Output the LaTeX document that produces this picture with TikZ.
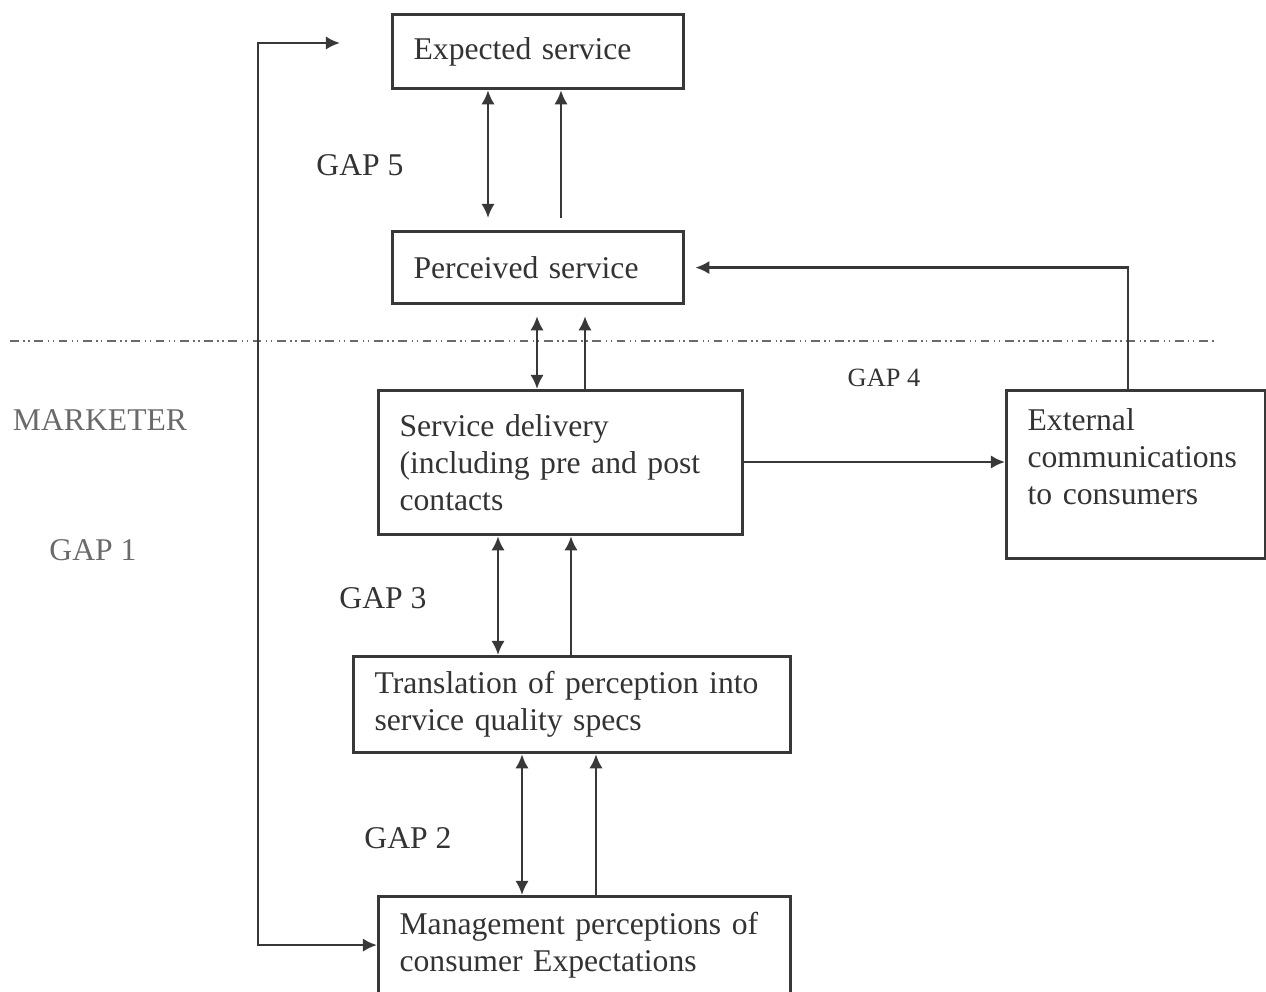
\documentclass[tikz,border=0pt]{standalone}
\usepackage{fontspec}
\setmainfont{Liberation Serif}
\usepackage{xcolor}
\usetikzlibrary{arrows.meta}
\definecolor{inkColor}{HTML}{333333}
\definecolor{lineColor}{HTML}{383838}
\definecolor{fadeColor}{HTML}{6A6A6A}

\begin{document}
\begin{tikzpicture}[
  x=0.01cm, y=-0.01cm,
  box/.style={
    rectangle,
    draw=lineColor,
    line width=0.9pt,
    align=left,
    anchor=north west,
    inner xsep=0.21cm,
    inner ysep=0pt,
    text=inkColor,
    font=\fontsize{9}{10.5}\selectfont
  },
  arrow/.style={
    -{Latex[length=4pt,width=3.8pt]},
    draw=lineColor,
    line width=0.75pt
  },
  dbl/.style={
    arrow,
    {Latex[length=4pt,width=3.8pt]}-{Latex[length=4pt,width=3.8pt]}
  },
  gaptext/.style={
    text=inkColor,
    font=\fontsize{9}{10.5}\selectfont
  },
  divider/.style={
    draw=fadeColor,
    line width=0.8pt,
    dash pattern=on 2.5pt off 1.3pt on 0.4pt off 1pt on 0.4pt off 1.3pt
  }
]
  \useasboundingbox (0,0) rectangle (1266,992);

  % Define nodes
  \node[box, minimum width=2.91cm, minimum height=0.74cm, text width=2.49cm] (expected) at (391,13) {Expected service};
  \node[box, minimum width=2.91cm, minimum height=0.72cm, text width=2.49cm] (perceived) at (391,230) {Perceived service};
  \node[box, minimum width=3.64cm, minimum height=1.44cm, text width=3.22cm] (delivery) at (377,389) {Service delivery\\(including pre and post\\contacts\\[2pt]};
  \node[box, minimum width=2.59cm, minimum height=1.68cm, text width=2.17cm] (external) at (1005,389) {External\\communications\\to consumers\\\mbox{}};
  \node[box, minimum width=4.37cm, minimum height=0.96cm, text width=3.95cm] (translation) at (352,655) {Translation of perception into\\service quality specs};
  \node[box, minimum width=4.12cm, minimum height=0.97cm, text width=3.70cm] (management) at (377,895) {Management perceptions of\\consumer Expectations};

  % Gap labels
  \node[gaptext] (gap5) at (360,165) {GAP 5};
  \node[gaptext, font=\fontsize{7.5}{9}\selectfont] (gap4) at (884,378) {GAP 4};
  \node[gaptext] (gap3) at (383,598) {GAP 3};
  \node[gaptext] (gap2) at (408,838) {GAP 2};
  \node[gaptext, text=fadeColor] (marketer) at (100,420) {MARKETER};
  \node[gaptext, text=fadeColor] (gap1) at (93,550) {GAP 1};

  % Customer / marketer boundary
  \draw[divider] (10,341) -- (1215,341);

  % Connect nodes with arrows
  \draw[dbl, shorten >=0.12cm] (expected.south -| 488,0) -- (perceived.north -| 488,0);
  \draw[arrow, shorten <=0.12cm] (perceived.north -| 561,0) -- (expected.south -| 561,0);
  \draw[dbl, shorten <=0.11cm] (perceived.south -| 537,0) -- (delivery.north -| 537,0);
  \draw[arrow, shorten >=0.11cm] (delivery.north -| 585,0) -- (perceived.south -| 585,0);
  \draw[dbl] (delivery.south -| 498,0) -- (translation.north -| 498,0);
  \draw[arrow] (translation.north -| 571,0) -- (delivery.south -| 571,0);
  \draw[dbl] (translation.south -| 522,0) -- (management.north -| 522,0);
  \draw[arrow] (management.north -| 596,0) -- (translation.south -| 596,0);
  \draw[arrow] (delivery.east |- 0,462) -- (external.west |- 0,462);
  \draw[arrow, shorten >=0.1cm] (external.north -| 1128,0) |- (perceived.east);

  \coordinate (loopTop) at (340,43);
  \draw[dbl] (loopTop) -- (loopTop -| 258,0) |- (management.west);
\end{tikzpicture}
\end{document}
